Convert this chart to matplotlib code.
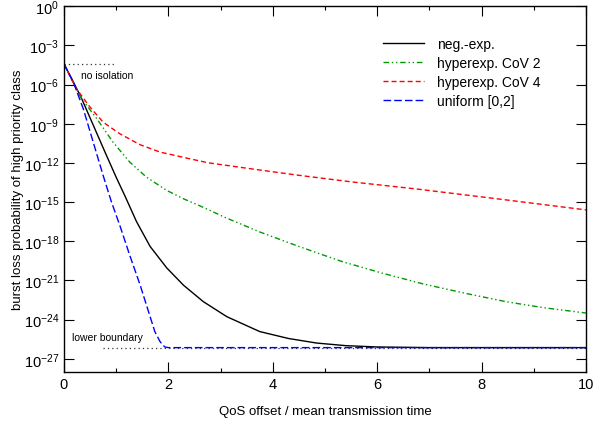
import matplotlib
matplotlib.use('Agg')
import matplotlib.pyplot as plt

plt.rcParams['font.family'] = ['Liberation Sans', 'DejaVu Sans']
plt.rcParams['mathtext.default'] = 'regular'

# values: x offset and -log10(probability)
negexp_x = [0, 0.18, 0.34, 0.56, 0.8, 1.0, 1.17, 1.39, 1.65, 1.97, 2.29, 2.67, 3.12,
            3.75, 4.3, 4.84, 5.4, 6.0, 7.0, 10.0]
negexp_d = [4.42, 5.8, 7.09, 9.1, 11.3, 13.1, 14.55, 16.5, 18.4, 20.05, 21.37, 22.63, 23.78,
            24.92, 25.45, 25.8, 26.0, 26.1, 26.15, 26.15]

cov2_x = [0, 0.18, 0.34, 0.63, 0.94, 1.26, 1.58, 1.97, 2.29, 2.61, 3.1, 3.75, 4.5,
          5.32, 6.1, 6.88, 7.7, 8.48, 9.2, 10.0]
cov2_d = [4.42, 5.85, 7.09, 8.62, 10.41, 11.94, 13.09, 14.11, 14.75, 15.3, 16.2, 17.29, 18.4,
          19.55, 20.45, 21.27, 22.0, 22.64, 23.1, 23.5]

cov4_x = [0, 0.12, 0.24, 0.5, 0.75, 1.07, 1.46, 1.84, 2.35, 2.76, 3.56, 4.5, 5.5,
          6.76, 8.4, 10.0]
cov4_d = [4.42, 5.4, 6.33, 7.73, 8.88, 9.77, 10.61, 11.17, 11.63, 11.99, 12.44, 12.95, 13.45,
          14.0, 14.8, 15.6]

unif_x = [0, 0.18, 0.37, 0.56, 0.75, 0.91, 1.07, 1.26, 1.46, 1.62, 1.74, 1.84, 1.93, 2.0, 10.0]
unif_d = [4.42, 5.82, 7.86, 10.41, 12.96, 15.0, 16.79, 19.08, 21.37, 23.4, 24.92, 25.69, 26.1,
          26.15, 26.15]

no_iso_x = [0, 0.95]
no_iso_d = [4.42, 4.42]
lower_x = [0.75, 10.0]
lower_d = [26.15, 26.15]

yexp = list(range(0, 28, 3))


def p(d):
    return [10.0 ** (-v) for v in d]


fig = plt.figure(figsize=(6.07, 4.27), dpi=100)
ax = fig.add_axes([0.1054, 0.127, 0.86, 0.856])

ax.plot(no_iso_x, p(no_iso_d), color='#333333', ls=(0, (1, 2.5)), lw=0.9)
ax.plot(lower_x, p(lower_d), color='#333333', ls=(0, (1, 2.5)), lw=0.9)

ax.plot(negexp_x, p(negexp_d), color='black', lw=1.0, label='neg.-exp.')
ax.plot(cov2_x, p(cov2_d), color='#009900', lw=1.0, dashes=(4, 2, 1, 2, 1, 2),
        label='hyperexp. CoV 2')
ax.plot(cov4_x, p(cov4_d), color='red', lw=1.0, dashes=(3.6, 2.2),
        label='hyperexp. CoV 4')
ax.plot(unif_x, p(unif_d), color='blue', lw=1.0, dashes=(5.5, 2.2),
        label='uniform [0,2]')

ax.text(0.33, 10.0 ** -5.3, 'no isolation', fontsize=7.5, va='center', ha='left')
ax.text(0.15, 10.0 ** -25.3, 'lower boundary', fontsize=7.5, va='center', ha='left')

ax.set_yscale('log')
ax.set_xlim(0, 10)
ax.set_ylim(1e-28, 1e0)
ax.set_yticks([10.0 ** -k for k in yexp])
ax.set_yticklabels(['$10^{%d}$' % (-k) if k else '$10^{0}$' for k in yexp])
ax.yaxis.set_minor_locator(matplotlib.ticker.NullLocator())
ax.set_xticks([0, 2, 4, 6, 8, 10])
ax.set_xticks([1, 3, 5, 7, 9], minor=True)

ax.tick_params(which='both', direction='in', top=True, right=True, labelsize=10.5)
ax.tick_params(which='major', length=7, width=0.8)
ax.tick_params(which='minor', length=3, width=0.8)
for s in ax.spines.values():
    s.set_linewidth(1.0)

ax.set_xlabel('QoS offset / mean transmission time', fontsize=9.5, labelpad=10)
ax.set_ylabel('burst loss probability of high priority class', fontsize=9.5, labelpad=0)

ax.legend(loc='upper right', frameon=False, fontsize=10, handlelength=3.0,
          handletextpad=0.9, labelspacing=0.35, bbox_to_anchor=(0.937, 0.95))

fig.savefig('out.png', dpi=100)
